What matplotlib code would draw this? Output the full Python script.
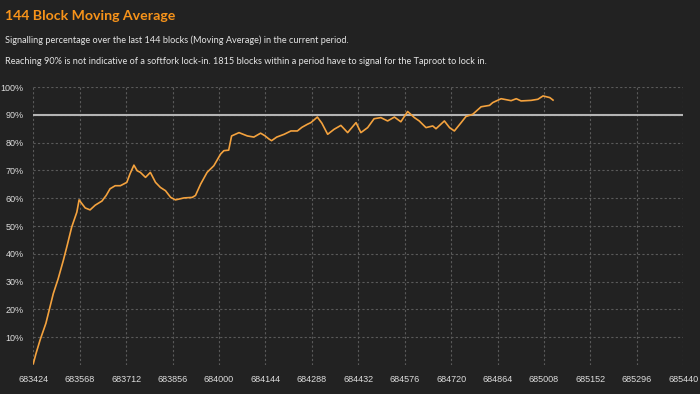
import matplotlib
matplotlib.use("Agg")
import matplotlib.pyplot as plt

# Block heights and 144-block moving average signalling percentage
blocks = [
    683424, 683432, 683445, 683463, 683486, 683501, 683517, 683529, 683543, 683559,
    683566, 683575, 683585, 683600, 683616, 683637, 683650, 683662, 683678, 683694,
    683714, 683724, 683736, 683746, 683756, 683772, 683787, 683803, 683818, 683834,
    683850, 683865, 683891, 683917, 683927, 683943, 683963, 683984, 684005, 684015,
    684030, 684039, 684062, 684088, 684108, 684129, 684142, 684155, 684163, 684179,
    684202, 684223, 684243, 684257, 684274, 684285, 684305, 684319, 684337, 684357,
    684378, 684399, 684409, 684425, 684440, 684461, 684481, 684502, 684523, 684544,
    684564, 684585, 684606, 684621, 684642, 684663, 684673, 684699, 684715, 684730,
    684751, 684766, 684787, 684813, 684839, 684849, 684875, 684906, 684922, 684937,
    684968, 684989, 685005, 685026, 685036,
]
signal_pct = [
    0.5, 4.0, 9.0, 15.0, 25.7, 31.0, 37.6, 43.0, 49.6, 55.0,
    59.4, 58.0, 56.5, 55.8, 57.5, 59.0, 61.0, 63.4, 64.5, 64.5,
    65.7, 68.8, 71.9, 69.9, 69.3, 67.5, 69.3, 65.7, 63.9, 62.7,
    60.3, 59.4, 60.1, 60.3, 61.0, 65.1, 69.3, 71.7, 75.9, 77.1,
    77.3, 82.4, 83.6, 82.4, 82.0, 83.4, 82.5, 81.3, 80.7, 82.0,
    83.0, 84.2, 84.2, 85.5, 86.6, 87.2, 89.2, 87.0, 83.0, 84.8,
    86.2, 83.6, 85.0, 87.2, 83.6, 85.4, 88.6, 89.0, 87.8, 89.2,
    87.5, 91.2, 89.0, 87.8, 85.4, 86.0, 85.0, 87.8, 85.4, 84.2,
    87.2, 89.4, 90.2, 92.9, 93.4, 94.4, 95.8, 95.1, 95.8, 95.0,
    95.2, 95.6, 96.8, 96.2, 95.3,
]

x_ticks = list(range(683424, 685441, 144))
y_ticks = [10, 20, 30, 40, 50, 60, 70, 80, 90, 100]
y_labels = [f"{v}%" for v in y_ticks]
threshold = 90

BG = "#222222"
ORANGE = "#f4a23e"

fig = plt.figure(figsize=(7, 3.94), dpi=100, facecolor=BG)
ax = fig.add_axes([0.0476, 0.0736, 0.9285, 0.7055], facecolor=BG)

ax.axhline(threshold, color="#b4b4b4", lw=1.5, zorder=2)
ax.plot(blocks, signal_pct, color=ORANGE, lw=1.2, zorder=3)

ax.set_xlim(x_ticks[0], x_ticks[-1])
ax.set_ylim(0, 100)
ax.set_xticks(x_ticks)
ax.set_xticklabels([str(t) for t in x_ticks])
ax.set_yticks(y_ticks)
ax.set_yticklabels(y_labels)

ax.grid(True, color="#5a5a5a", lw=0.8, linestyle=(0, (2, 2)))
ax.set_axisbelow(True)
for s in ax.spines.values():
    s.set_visible(False)
ax.tick_params(axis="both", length=0, colors="#dddddd", labelsize=6.5)
ax.tick_params(axis="y", pad=7)
ax.tick_params(axis="x", pad=7)
for lbl in ax.get_xticklabels() + ax.get_yticklabels():
    lbl.set_family("Liberation Sans")

fig.text(5 / 700, 1 - 16 / 394, "144 Block Moving Average", color="#f7931a",
         fontsize=10.2, fontweight="bold", family="Lato", va="center", ha="left")
fig.text(5 / 700, 1 - 40 / 394,
         "Signalling percentage over the last 144 blocks (Moving Average) in the current period.",
         color="#e6e6e6", fontsize=6.55, family="Lato", va="center", ha="left")
fig.text(5 / 700, 1 - 62 / 394,
         "Reaching 90% is not indicative of a softfork lock-in. 1815 blocks within a period have to signal for the Taproot to lock in.",
         color="#e6e6e6", fontsize=6.55, family="Lato", va="center", ha="left")

fig.savefig("out.png", dpi=100, facecolor=BG)
